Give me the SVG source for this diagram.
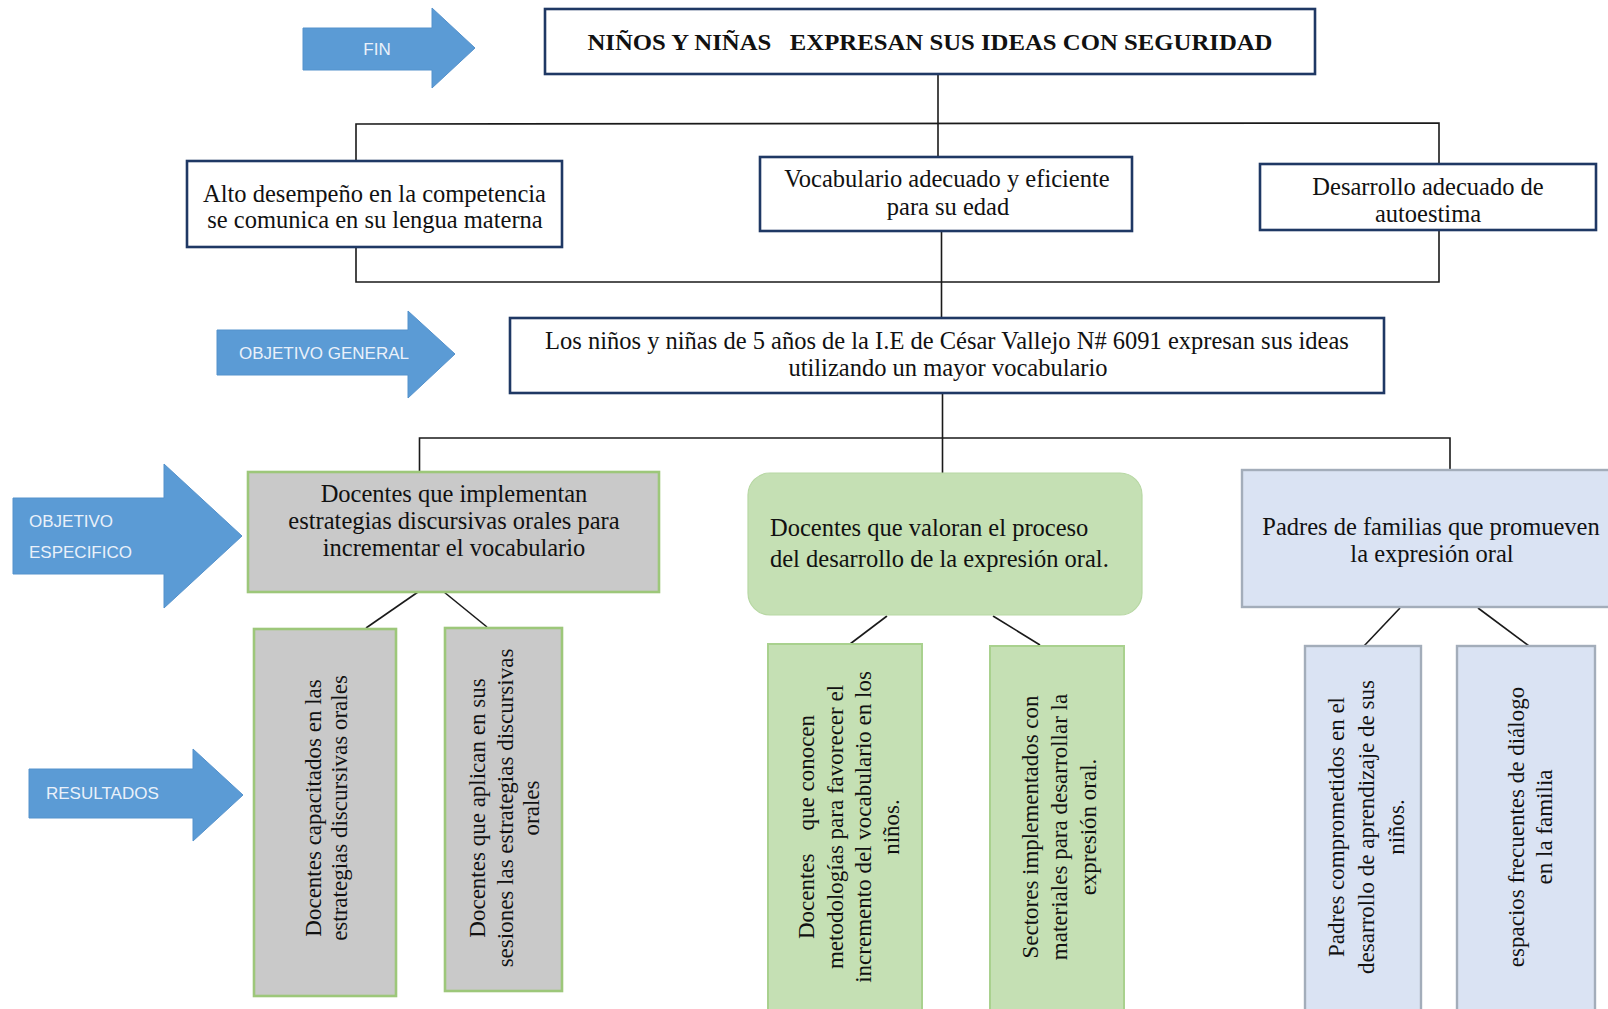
<svg xmlns="http://www.w3.org/2000/svg" width="1608" height="1009" viewBox="0 0 1608 1009">
<style>
.bg{fill:#ffffff}
.arrow{fill:#5b9bd5;stroke:#5592cc;stroke-width:1}
.alab{font-family:"Liberation Sans",Arial,sans-serif;font-size:17px;fill:#eaf1fa}
.dark{fill:#ffffff;stroke:#1f3864;stroke-width:2.6}
.gray{fill:#c9c9c9;stroke:#9dc77a;stroke-width:2.6}
.greenp{fill:#c5e0b4;stroke:#b7d7a3;stroke-width:1.2}
.green{fill:#c5e0b4;stroke:#a9d18e;stroke-width:2}
.blue{fill:#dae3f3;stroke:#a3adba;stroke-width:2.4}
.t{font-family:"Liberation Serif","Times New Roman",serif;font-size:24.5px;fill:#111;text-anchor:middle}
.tl{font-family:"Liberation Serif","Times New Roman",serif;font-size:24.5px;fill:#111}
.title{font-family:"Liberation Serif","Times New Roman",serif;font-size:23px;font-weight:bold;fill:#111;text-anchor:middle;white-space:pre}
.r{font-family:"Liberation Serif","Times New Roman",serif;font-size:23px;fill:#111;text-anchor:middle}
.conn line,.conn polyline{stroke:#1a1a1a;stroke-width:1.6;fill:none}
</style>
<rect class="bg" x="0" y="0" width="1608" height="1009"/>

<!-- side arrows -->
<g id="arrow-fin">
<polygon class="arrow" points="303,28 432,28 432,8 475,48 432,88 432,70 303,70"/>
<text class="alab" x="377" y="55" text-anchor="middle">FIN</text>
</g>
<g id="arrow-objetivo-general">
<polygon class="arrow" points="217,330 408,330 408,311 455,354 408,398 408,375 217,375"/>
<text class="alab" x="324" y="359" text-anchor="middle">OBJETIVO GENERAL</text>
</g>
<g id="arrow-objetivo-especifico">
<polygon class="arrow" points="13,498 164,498 164,464 242,536 164,608 164,574 13,574"/>
<text class="alab" x="29" y="527">OBJETIVO</text>
<text class="alab" x="29" y="558">ESPECIFICO</text>
</g>
<g id="arrow-resultados">
<polygon class="arrow" points="29,769 193,769 193,749 243,795 193,841 193,818 29,818"/>
<text class="alab" x="46" y="799">RESULTADOS</text>
</g>

<!-- connectors -->
<g id="connectors" class="conn">
<line x1="938" y1="74" x2="938" y2="157"/>
<line x1="941.5" y1="231" x2="941.5" y2="318"/>
<polyline points="356,161 356,124 1439,123 1439,164"/>
<polyline points="356,247 356,282 1439,282 1439,230"/>
<line x1="942.5" y1="393" x2="942.5" y2="473"/>
<polyline points="419.5,472 419.5,438 1450,438 1450,470"/>
<line x1="418" y1="592" x2="366" y2="628"/>
<line x1="444" y1="592" x2="487" y2="627"/>
<line x1="887" y1="616" x2="850" y2="644"/>
<line x1="993" y1="616" x2="1040" y2="645"/>
<line x1="1400" y1="608" x2="1364" y2="646"/>
<line x1="1478" y1="608" x2="1529" y2="646"/>
</g>

<!-- FIN -->
<g id="node-fin">
<rect class="dark" x="545" y="9" width="770" height="65"/>
<text class="title" x="930" y="50" textLength="685" lengthAdjust="spacingAndGlyphs">NIÑOS Y NIÑAS   EXPRESAN SUS IDEAS CON SEGURIDAD</text>
</g>

<g id="node-alto">
<rect class="dark" x="187" y="161" width="375" height="86"/>
<text class="t" x="374.5" y="201.5">Alto desempeño en la competencia</text>
<text class="t" x="375" y="228">se comunica en su lengua materna</text>
</g>

<g id="node-vocabulario">
<rect class="dark" x="760" y="157" width="372" height="74"/>
<text class="t" x="947" y="187">Vocabulario adecuado y eficiente</text>
<text class="t" x="948" y="214.5">para su edad</text>
</g>

<g id="node-autoestima">
<rect class="dark" x="1260" y="164" width="336" height="66"/>
<text class="t" x="1428" y="194.5">Desarrollo adecuado de</text>
<text class="t" x="1428" y="221.5">autoestima</text>
</g>

<g id="node-objetivo-general">
<rect class="dark" x="510" y="318" width="874" height="75"/>
<text class="t" x="947" y="349">Los niños y niñas de 5 años de la I.E de César Vallejo N# 6091 expresan sus ideas</text>
<text class="t" x="948" y="375.5">utilizando un mayor vocabulario</text>
</g>

<g id="node-docentes-implementan">
<rect class="gray" x="248" y="472" width="411" height="120"/>
<text class="t" x="454" y="501.5">Docentes que implementan</text>
<text class="t" x="454" y="528.5">estrategias discursivas orales para</text>
<text class="t" x="454" y="555.5">incrementar el vocabulario</text>
</g>

<g id="node-docentes-valoran">
<rect class="greenp" x="748" y="473" width="394" height="142" rx="22" ry="22"/>
<text class="tl" x="770" y="535.5">Docentes que valoran el proceso</text>
<text class="tl" x="770" y="566.5">del desarrollo de la expresión oral.</text>
</g>

<g id="node-padres-promueven">
<rect class="blue" x="1242" y="470" width="380" height="137"/>
<text class="t" x="1431" y="534.5">Padres de familias que promueven</text>
<text class="t" x="1432" y="561.5">la expresión oral</text>
</g>

<g id="node-docentes-capacitados">
<rect class="gray" x="254" y="629" width="142" height="367"/>
<g transform="translate(0,808) rotate(-90)">
<text class="r" x="0" y="321">Docentes capacitados en las</text>
<text class="r" x="0" y="347">estrategias discursivas orales</text>
</g>
</g>

<g id="node-docentes-aplican">
<rect class="gray" x="445" y="628" width="117" height="363"/>
<g transform="translate(0,808) rotate(-90)">
<text class="r" x="0" y="485">Docentes que aplican en sus</text>
<text class="r" x="0" y="512.5">sesiones las estrategias discursivas</text>
<text class="r" x="0" y="539">orales</text>
</g>
</g>

<g id="node-docentes-conocen">
<rect class="green" x="768" y="644" width="154" height="380"/>
<g transform="translate(0,827) rotate(-90)">
<text class="r" x="0" y="814" style="white-space:pre">Docentes    que conocen</text>
<text class="r" x="0" y="843">metodologías para favorecer el</text>
<text class="r" x="0" y="871">incremento del vocabulario en los</text>
<text class="r" x="0" y="899">niños.</text>
</g>
</g>

<g id="node-sectores">
<rect class="green" x="990" y="646" width="134" height="380"/>
<g transform="translate(0,827) rotate(-90)">
<text class="r" x="0" y="1038">Sectores implementados con</text>
<text class="r" x="0" y="1067">materiales para desarrollar la</text>
<text class="r" x="0" y="1096">expresión oral.</text>
</g>
</g>

<g id="node-padres-comprometidos">
<rect class="blue" x="1305" y="646" width="116" height="380"/>
<g transform="translate(0,827) rotate(-90)">
<text class="r" x="0" y="1344">Padres comprometidos en el</text>
<text class="r" x="0" y="1374">desarrollo de aprendizaje de sus</text>
<text class="r" x="0" y="1404">niños.</text>
</g>
</g>

<g id="node-espacios">
<rect class="blue" x="1457" y="646" width="138" height="380"/>
<g transform="translate(0,827) rotate(-90)">
<text class="r" x="0" y="1524">espacios frecuentes de diálogo</text>
<text class="r" x="0" y="1552">en la familia</text>
</g>
</g>
</svg>
